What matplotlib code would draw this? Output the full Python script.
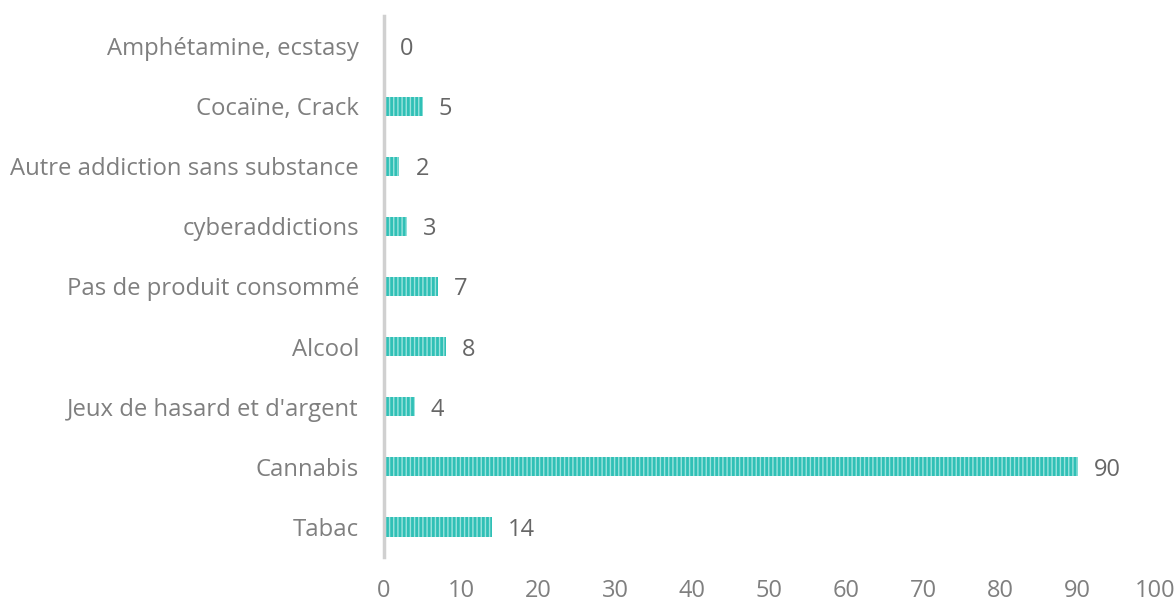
import matplotlib.pyplot as plt
import matplotlib as mpl

plt.rcParams['font.family'] = ['Open Sans', 'DejaVu Sans']

categories = ['Tabac', 'Cannabis', "Jeux de hasard et d'argent", 'Alcool',
              'Pas de produit consommé', 'cyberaddictions',
              'Autre addiction sans substance', 'Cocaïne, Crack',
              'Amphétamine, ecstasy']
values = [14, 90, 4, 8, 7, 3, 2, 5, 0]

# light vertical stripes over the teal fill
mpl.rcParams['hatch.linewidth'] = 1.0
mpl.rcParams['hatch.color'] = '#9be3dd'

fig = plt.figure(figsize=(11.76, 6.05), dpi=100)
ax = fig.add_axes([0.3265, 0.0793, 0.6556, 0.8943])

pos = range(len(categories))
ax.barh(pos, values, height=0.32, color='#30c0b6', hatch='||||', edgecolor='#9be3dd', linewidth=0)

for y, v in zip(pos, values):
    ax.annotate(str(v), (v, y), xytext=(16, 0), textcoords='offset pixels',
                va='center_baseline', ha='left', fontsize=17, color='#666666')

ax.set_yticks(list(pos))
ax.set_yticklabels(categories, fontsize=17.2, color='#7f7f7f')
ax.set_ylim(-0.5, len(categories) - 0.5)
ax.set_xlim(0, 100)
ax.set_xticks(range(0, 101, 10))
ax.tick_params(axis='x', labelsize=17, labelcolor='#7f7f7f', length=0, pad=16)
ax.tick_params(axis='y', length=0, pad=18)

for s in ['top', 'right', 'bottom']:
    ax.spines[s].set_visible(False)
ax.spines['left'].set_color('#d0d0d0')
ax.spines['left'].set_linewidth(2.5)

fig.savefig('out.png', dpi=100)
